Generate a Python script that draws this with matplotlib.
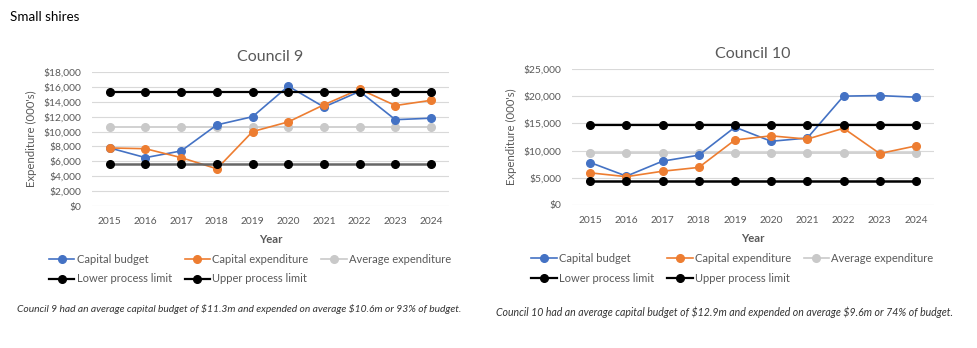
import numpy as np
import matplotlib
matplotlib.use("Agg")
import matplotlib.pyplot as plt

plt.rcParams["font.family"] = ["Lato", "DejaVu Sans"]

years = ["2015", "2016", "2017", "2018", "2019", "2020", "2021", "2022", "2023", "2024"]

# Council 9 ($000's)
c9_budget = [7800, 6500, 7400, 10900, 12000, 16100, 13300, 15400, 11600, 11800]
c9_spend = [7800, 7700, 6500, 5000, 10000, 11300, 13600, 15700, 13500, 14200]
c9_avg = 10550
c9_lower = 5700
c9_upper = 15350

# Council 10 ($000's)
c10_budget = [7800, 5300, 8050, 9150, 14300, 11700, 12300, 20000, 20100, 19800]
c10_spend = [5900, 5200, 6200, 6900, 11950, 12700, 12100, 14100, 9450, 10850]
c10_avg = 9600
c10_lower = 4450
c10_upper = 14700

c9_note = ("Council 9 had an average capital budget of \\$11.3m and expended on "
           "average \\$10.6m or 93% of budget.")
c10_note = ("Council 10 had an average capital budget of \\$12.9m and expended on "
            "average \\$9.6m or 74% of budget.")

BLUE = "#4472C4"
ORANGE = "#ED7D31"
LIGHT = "#C9C9C9"
TXT = "#595959"
GRID = "#D9D9D9"


def draw(ax, title, budget, spend, avg, lower, upper, ymax, ystep, lower_color):
    x = np.arange(len(years))
    n = len(years)
    kw = dict(marker="o", markersize=5.5, linewidth=1.2)
    h_cb, = ax.plot(x, budget, color=BLUE, label="Capital budget", zorder=4, **kw)
    h_ce, = ax.plot(x, spend, color=ORANGE, label="Capital expenditure", zorder=5, **kw)
    h_av, = ax.plot(x, [avg] * n, color=LIGHT, label="Average expenditure", zorder=3, **kw)
    ax.plot(x, [lower] * n, color=lower_color, zorder=6, marker="o", markersize=5.5,
            linewidth=1.8, markerfacecolor="black", markeredgecolor="black")
    h_up, = ax.plot(x, [upper] * n, color="black", label="Upper process limit", zorder=6,
                    marker="o", markersize=5.5, linewidth=1.6)
    # legend entry for the lower limit is drawn black
    h_lo, = ax.plot([], [], color="black", marker="o", markersize=5.5, linewidth=1.6,
                    label="Lower process limit")

    ticks = np.arange(0, ymax + 1, ystep)
    ax.set_xlim(-0.5, n - 0.5)
    ax.set_ylim(0, ymax)
    ax.set_yticks(ticks)
    ax.set_yticklabels([f"\\${v:,.0f}" for v in ticks])
    ax.set_xticks(x)
    ax.set_xticklabels(years)
    ax.yaxis.grid(True, color=GRID, linewidth=0.8)
    ax.set_axisbelow(True)
    for s in ax.spines.values():
        s.set_visible(False)
    ax.tick_params(length=0, colors=TXT, labelsize=7.4, pad=8)
    ax.set_xlabel("Year", color=TXT, fontsize=8.2, fontweight="bold", labelpad=6)
    ax.set_ylabel("Expenditure (000's)", color=TXT, fontsize=8.2, labelpad=4)
    ax.set_title(title, color=TXT, fontsize=11.5, pad=8)

    # row order: budget, spend, average / lower, upper
    handles = [h_cb, h_lo, h_ce, h_up, h_av]
    leg = ax.legend(handles=handles, loc="upper center", bbox_to_anchor=(0.443, -0.28),
                    ncol=3, frameon=False, fontsize=8.0, handlelength=2.3,
                    handletextpad=0.2, columnspacing=1.15, labelspacing=0.8)
    for t in leg.get_texts():
        t.set_color(TXT)


fig = plt.figure(figsize=(9.78, 3.48), dpi=100)
ax1 = fig.add_axes([0.094, 0.408, 0.365, 0.385])
ax2 = fig.add_axes([0.585, 0.411, 0.370, 0.391])

draw(ax1, "Council 9", c9_budget, c9_spend, c9_avg, c9_lower, c9_upper, 18000, 2000, "#666666")
draw(ax2, "Council 10", c10_budget, c10_spend, c10_avg, c10_lower, c10_upper, 25000, 5000, "black")

fig.text(0.010, 0.95, "Small shires", fontsize=9.6, color="black", ha="left", va="center")
fig.text(0.017, 0.112, c9_note, fontsize=7.35, style="italic", color="#333333",
         ha="left", va="center")
fig.text(0.507, 0.103, c10_note, fontsize=7.6, style="italic", color="#333333",
         ha="left", va="center")

fig.savefig("out.png", dpi=100)
